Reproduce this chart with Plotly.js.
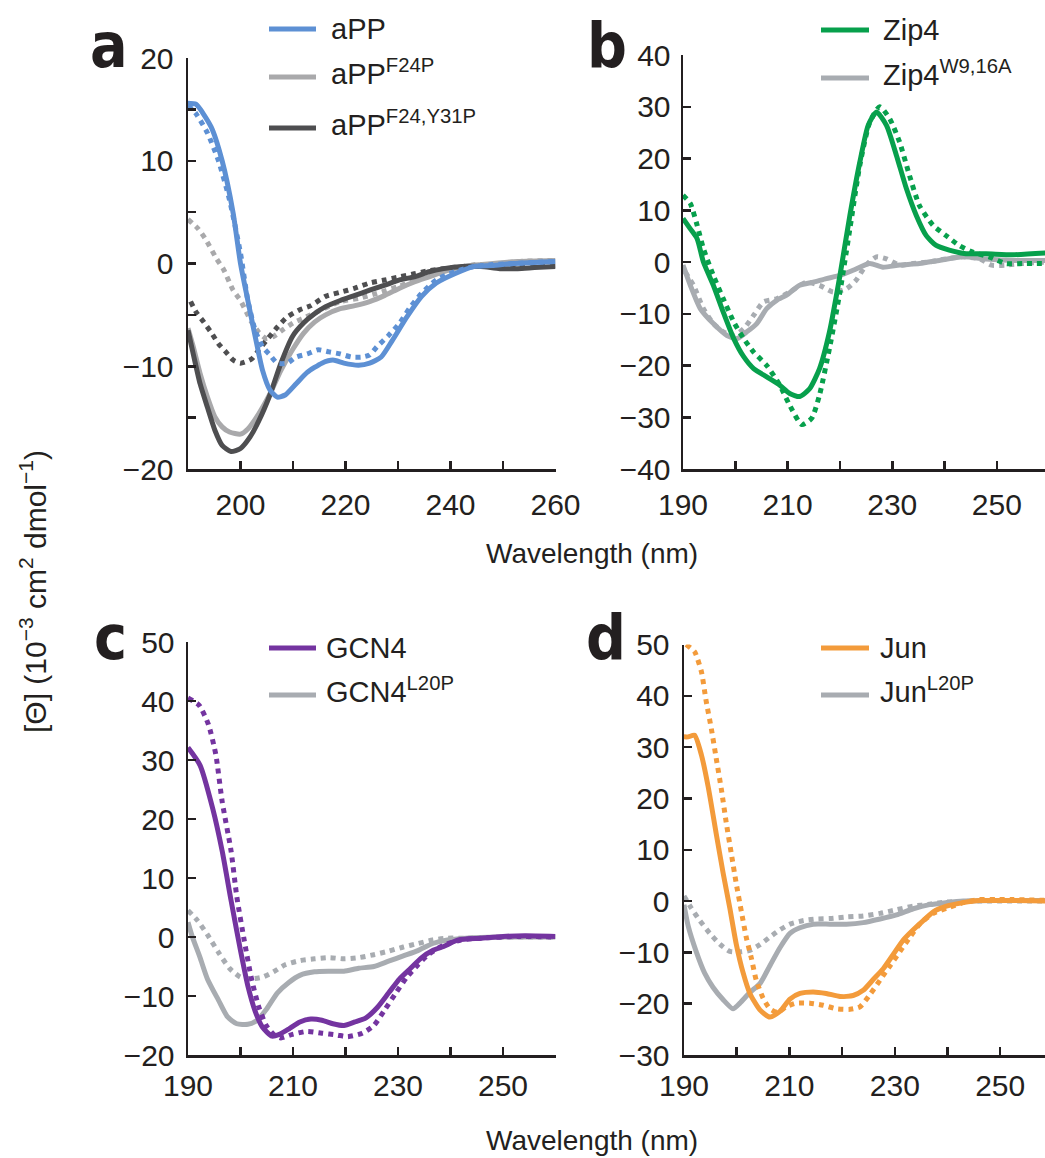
<!DOCTYPE html>
<html>
<head>
<meta charset="utf-8">
<script src="https://cdn.plot.ly/plotly-3.0.1.min.js"></script>
<style>html,body{margin:0;padding:0;background:#fff;overflow:hidden}#chart{width:1045px;height:1158px}</style>
</head>
<body>
<div id="chart"></div>
<script>
// ---------- Panel a : aPP variants ----------
const aPP_x = [190,191.5,194.4,196.5,198.6,200,201.4,202.8,204.2,205.6,207,208.5,210.6,212.7,215.5,217.6,219.7,222.5,224.6,226.8,228.9,231.7,234.5,237.3,240.8,244.4,247.9,252,256,260];
const aPP_y = [15.6,15.5,13.3,10,4.9,0,-3.6,-7.1,-10.4,-12.3,-13,-12.8,-11.7,-10.6,-9.7,-9.4,-9.7,-9.9,-9.7,-9.1,-7.5,-5.2,-3.2,-1.9,-1,-0.3,-0.2,0,0.1,0.2];
const aPPdot_x = [190,191.5,193.7,195.8,197.9,200,201.4,202.8,204.2,205.6,207,208.9,210.6,212.7,214.8,216.9,219,221.1,223.2,224.6,226,228.2,230.3,232.4,234.5,237.3,240.8,244.4,248,252,256,260];
const aPPdot_y = [15.4,14.6,12.7,10,6.2,1,-3.6,-6.5,-8.1,-8.9,-9.7,-9.7,-9.1,-8.8,-8.4,-8.6,-8.8,-9.1,-9.1,-8.9,-8.1,-7,-5.8,-4.2,-2.9,-1.6,-0.8,-0.3,-0.1,0,0.1,0.2];
const F24P_x = [190,191,192.3,193.7,195.1,196.5,197.9,200,201.4,203.5,205.6,207.7,209.9,212,214.1,216.2,219,221.8,224.6,227.5,230.3,233.1,235.9,238.7,242.3,246,252.8,260];
const F24P_y = [-6.3,-8.1,-10.7,-13,-14.9,-15.9,-16.4,-16.6,-16.1,-14.6,-12.7,-10.4,-8.4,-6.8,-5.7,-5,-4.4,-4.1,-3.7,-3.1,-2.4,-1.8,-1.3,-0.8,-0.3,-0.1,0.2,0.3];
const F24Pdot_x = [190,191.9,193.3,195.4,196.8,198.6,200,201.1,202.1,203.5,204.9,206.3,208.2,210,212.5,215,219,222.5,226,230.3,234.5,238.7,243,248,252.8,260];
const F24Pdot_y = [4.3,3.4,2.4,0.5,-0.6,-2.6,-3.6,-4.7,-5.7,-6.7,-7.3,-7.1,-6.4,-5.8,-5.2,-4.6,-3.7,-3.4,-2.9,-2.2,-1.4,-0.9,-0.3,-0.1,0.2,0.3];
const F24Y31P_x = [190,191,192.3,193.7,195.1,196.5,198.2,200,201.8,203.5,205.6,207.7,209.9,212,214.1,216.2,219,221.8,224.6,227.5,230.3,233.1,235.9,238.7,242.3,245.8,249.4,252.8,256,260];
const F24Y31P_y = [-6.5,-8.8,-11.7,-14,-16.2,-17.7,-18.3,-18,-16.9,-15.3,-12.8,-9.7,-7.1,-5.8,-4.9,-4.2,-3.6,-3.1,-2.6,-2.1,-1.6,-1.3,-0.8,-0.5,-0.3,-0.3,-0.5,-0.5,-0.4,-0.3];
const F24Y31Pdot_x = [190.5,191.5,193,194.4,195.8,197.2,198.6,200,202.1,203.5,204.9,207,208.9,211.3,213.4,216.2,219,221.8,224.6,227.5,230.3,233.1,235.9,238.7,242.3,245.8,249.4,252.8,260];
const F24Y31Pdot_y = [-3.7,-4.7,-5.7,-6.7,-7.8,-8.6,-9.4,-9.7,-9.3,-8.4,-7.5,-6.2,-5.2,-4.5,-4.1,-3.2,-2.8,-2.4,-1.9,-1.6,-1.3,-1,-0.7,-0.5,-0.3,-0.1,-0.3,-0.3,-0.2];

// ---------- Panel b : Zip4 ----------
const Zip4_x = [190,191.4,192.7,193.9,195.8,197.7,199.7,201.6,203.5,206,208.5,210.4,212.3,214.2,216.1,218,220,221.9,223.8,225.4,227,228.9,230.8,232.7,234.6,236.5,238.4,240.9,244.1,247.9,253,260];
const Zip4_y = [8.4,6.4,4.5,0,-4.5,-9.7,-14.8,-18.3,-20.6,-22.2,-23.8,-25.4,-26,-24.5,-20.6,-13.5,-2.6,9,19.3,26.4,29,26.4,20.6,14.2,9,5.1,3.2,2.3,1.6,1.6,1.4,1.8];
const Zip4dot_x = [190,191.4,192.7,193.9,195.8,197.7,199.7,201.6,203.5,206,208.5,210.4,212.7,214.6,216.1,218,220,221.9,223.8,225.7,227.6,229.5,231.4,233.3,235.2,237.8,240.3,242.8,245.4,248.5,251.7,254.9,260];
const Zip4dot_y = [12.9,11.3,7.1,2.6,-2.6,-7.1,-11.6,-14.8,-17.4,-20,-23.8,-27.7,-31.4,-30.2,-25.7,-16.7,-5.8,6.4,18.7,27,30,27.7,23.2,16.7,10.9,7.1,5.1,3.2,1.9,1,-0.3,-0.3,-0.3];
const Zip4W_x = [190,191.4,193.3,195.8,198.4,200.3,202.2,204.1,206,207.9,209.8,212.3,214.9,217.4,220,222.5,225.7,228.2,231.4,235.2,239,243.5,247.9,253,260];
const Zip4W_y = [-0.6,-4.5,-9,-11.9,-14.2,-14.8,-13.5,-11.9,-9,-7.4,-6.4,-4.5,-3.9,-3.2,-2.6,-1.6,-0.3,-1,-0.6,-0.3,0.3,1,0.6,0.3,0.3];
const Zip4Wdot_x = [190.4,192,193.9,195.8,197.7,199.7,201.6,203.5,205.4,207.9,210.4,213.6,216.1,218.7,221.2,223.1,225,227,228.9,231.4,234,237.1,240.3,243.5,246.7,249,251.7,254.9,260];
const Zip4Wdot_y = [-1.9,-4.5,-9,-11.9,-13.5,-14.2,-12.9,-10.3,-7.7,-7.1,-5.8,-3.9,-4.5,-5.8,-5.2,-3.5,-0.6,1,0.6,-0.6,-0.3,0,0.6,1,0.6,-0.6,-0.6,-0.3,0];

// ---------- Panel c : GCN4 ----------
const GCN4_x = [190,192.3,194.7,196.5,198.2,200,201.4,202.8,204.2,206,207.4,209.2,211.3,213.4,215.5,217.6,219.7,221.8,223.9,226.1,228.2,230.3,232.4,234.5,236.6,238.7,241.5,245.8,250,254.2,260];
const GCN4_y = [32.1,29.1,21.8,14.6,6.2,-2.3,-8.3,-12.6,-15.3,-16.8,-16.5,-15.6,-14.4,-13.9,-14.1,-14.7,-15,-14.4,-13.7,-11.9,-9.5,-7.1,-5.3,-3.5,-2.3,-1.6,-0.5,-0.2,0.1,0.2,0.1];
const GCN4dot_x = [190,192.1,193.9,195.3,196.5,198.2,199.3,200.7,202.1,203.5,204.9,206.3,207.7,209.9,212.7,215.5,218.3,220.4,223.2,225.4,227.5,229.6,231.7,233.8,235.9,238.7,242,245.8,252.8,260];
const GCN4dot_y = [40.5,39.3,36,30.9,23,14.6,6.8,-0.5,-7.1,-11.9,-15,-16.5,-17.1,-16.5,-16,-16.3,-16.6,-16.9,-16.3,-15,-12.3,-9.5,-6.8,-4.7,-2.9,-1.4,-0.5,-0.2,0.1,0];
const GCN4L_x = [190,190.8,192.3,193.7,195.8,197.5,199.3,201.4,203.2,204.9,207,209.2,211.3,214.1,217,219.7,222.5,225.4,228.2,231,233.8,236.6,239.4,242.9,249.3,260];
const GCN4L_y = [2.5,0.1,-3.5,-7.1,-10.7,-13.5,-14.7,-14.8,-14.1,-12.3,-9.5,-7.7,-6.5,-5.9,-5.8,-5.8,-5.3,-5,-4.1,-3.2,-2.3,-1.1,-0.5,-0.2,0,0];
const GCN4Ldot_x = [190,191.8,193.7,195.8,197.9,200,202.1,204.2,206.3,208.5,211.3,214.1,217,219.7,222.5,225.4,228.2,231,233.8,236.6,239.4,242.9,252.8,260];
const GCN4Ldot_y = [4.5,2.8,0.4,-2.6,-5.3,-6.8,-7.1,-6.8,-5.9,-4.7,-4,-3.7,-3.5,-3.7,-3.5,-3,-2.4,-1.7,-1.1,-0.5,-0.2,-0.2,0,0];

// ---------- Panel d : Jun ----------
const Jun_x = [190,190.8,192,193.3,194.6,196.1,197.4,198.7,199.9,201.2,202.5,204.4,206.3,208.2,210.1,212,214.5,217,219.6,222.1,224,225.9,227.8,229.7,231.6,233.5,235.4,237.3,239.8,243,246.1,252.4,260];
const Jun_y = [32,32,32.3,28.5,22.2,13.2,5.6,-1.4,-8.3,-13.9,-18,-21.2,-22.6,-21.5,-19.1,-18,-17.7,-18,-18.6,-18.4,-17.4,-15.3,-13.2,-10.4,-7.6,-5.6,-3.8,-2.1,-1,-0.3,0.1,0.1,0];
const Jundot_x = [190.4,192,193.3,194.2,195.2,196.1,197.1,198,199,199.9,200.9,201.8,202.8,203.7,205,206.3,207.8,209.4,211.3,213.9,216.4,218.9,221.5,223.4,225.3,227.2,229.1,231,232.9,234.7,237.3,239.8,243,246.1,249.3,252.4,260];
const Jundot_y = [50,48.6,44.7,39,33.5,27.9,21.7,15.4,9.1,3.5,-2.1,-7,-11.2,-15.4,-18.9,-21,-21.7,-20.6,-19.9,-19.9,-20.3,-21,-21.1,-20.6,-18.2,-15.4,-12.6,-9.8,-7,-4.5,-2.4,-1.4,-0.3,0.3,0.3,0.3,0.1];
const JunL_x = [190,190.8,192.3,193.9,195.5,197.4,199.3,200.6,202.5,204.4,206.3,208.2,210.1,212,214.5,217.7,220.8,224,227.2,230.3,233.5,236.6,239.8,243,249.3,260];
const JunL_y = [-0.7,-4.9,-9.8,-14,-16.8,-19.2,-21,-19.9,-17.8,-16.1,-12.6,-9.1,-6.3,-5.2,-4.5,-4.5,-4.5,-4.2,-3.5,-2.7,-1.5,-0.7,-0.3,0,0.1,0.1];
const JunLdot_x = [190,191.4,193,194.9,196.8,198.7,200.6,202.5,204.4,206.3,208.2,210.1,212.7,215.1,217.7,220.8,224,227.2,230.3,233.5,236.6,239.8,246.1,260];
const JunLdot_y = [1,-1.4,-3.8,-6.3,-8.4,-9.8,-9.9,-9.6,-8.5,-7,-5.6,-4.5,-3.8,-3.5,-3.4,-3.1,-2.9,-2.4,-1.7,-1,-0.6,-0.2,0,0];

// ---------- Labels and ticks ----------
const panelLetters = ['a','b','c','d'];
const legendNames_a = ['aPP','aPP<sup>F24P</sup>','aPP<sup>F24,Y31P</sup>'];
const legendNames_b = ['Zip4','Zip4<sup>W9,16A</sup>'];
const legendNames_c = ['GCN4','GCN4<sup>L20P</sup>'];
const legendNames_d = ['Jun','Jun<sup>L20P</sup>'];
const xMinorVals = [190,200,210,220,230,240,250,260];
const xTickVals_a = [200,220,240,260];
const xTickText_a = ['200','220','240','260'];
const xTickVals_bcd = [190,210,230,250];
const xTickText_bcd = ['190','210','230','250'];
const yMinorVals_a = [-20,-15,-10,-5,0,5,10,15,20];
const yTickVals_a = [-20,-10,0,10,20];
const yTickText_a = ['\u221220','\u221210','0','10','20'];
const yTickVals_b = [-40,-30,-20,-10,0,10,20,30,40];
const yTickText_b = ['\u221240','\u221230','\u221220','\u221210','0','10','20','30','40'];
const yTickVals_c = [-20,-10,0,10,20,30,40,50];
const yTickText_c = ['\u221220','\u221210','0','10','20','30','40','50'];
const yTickVals_d = [-30,-20,-10,0,10,20,30,40,50];
const yTickText_d = ['\u221230','\u221220','\u221210','0','10','20','30','40','50'];
const xTitle = 'Wavelength (nm)';
const yTitle = '[\u0398] (10<sup>\u22123</sup> cm<sup>2</sup> dmol<sup>\u22121</sup>)';

// ---------- Styles ----------
const C = {
  blue:'#5d90d4', lgray:'#a9a9ab', dgray:'#4e4e50',
  green:'#07a04c', gray:'#a8acb1', purple:'#7434a0', orange:'#f39b3b'
};
const INK = '#231f20';
const FONT = "'Liberation Sans', Arial, Helvetica, sans-serif";
const W = 1045, H = 1158;
const px = v => v / W;
const py = v => 1 - v / H;
const SOLID_W = 5, DOT_W = 5, DOT = '5px,5px';

function tr(x, y, color, dotted, ax) {
  return {
    x: x, y: y, type: 'scatter', mode: 'lines', showlegend: false, hoverinfo: 'skip',
    xaxis: 'x' + ax, yaxis: 'y' + ax,
    line: { color: color, width: dotted ? DOT_W : SOLID_W, dash: dotted ? DOT : 'solid', shape: 'spline', smoothing: 0.6 }
  };
}
const data = [
  tr(F24Pdot_x, F24Pdot_y, C.lgray, true, ''),
  tr(F24Y31Pdot_x, F24Y31Pdot_y, C.dgray, true, ''),
  tr(F24P_x, F24P_y, C.lgray, false, ''),
  tr(F24Y31P_x, F24Y31P_y, C.dgray, false, ''),
  tr(aPPdot_x, aPPdot_y, C.blue, true, ''),
  tr(aPP_x, aPP_y, C.blue, false, ''),

  tr(Zip4Wdot_x, Zip4Wdot_y, C.gray, true, '2'),
  tr(Zip4W_x, Zip4W_y, C.gray, false, '2'),
  tr(Zip4dot_x, Zip4dot_y, C.green, true, '2'),
  tr(Zip4_x, Zip4_y, C.green, false, '2'),

  tr(GCN4Ldot_x, GCN4Ldot_y, C.gray, true, '3'),
  tr(GCN4L_x, GCN4L_y, C.gray, false, '3'),
  tr(GCN4dot_x, GCN4dot_y, C.purple, true, '3'),
  tr(GCN4_x, GCN4_y, C.purple, false, '3'),

  tr(JunLdot_x, JunLdot_y, C.gray, true, '4'),
  tr(JunL_x, JunL_y, C.gray, false, '4'),
  tr(Jundot_x, Jundot_y, C.orange, true, '4'),
  tr(Jun_x, Jun_y, C.orange, false, '4')
];

function axis(extra, minorVals, standoff) {
  const a = Object.assign({
    showline: true, linecolor: INK, linewidth: 2.5,
    ticks: 'inside', ticklen: 8, tickwidth: 2.5, tickcolor: INK,
    showgrid: false, zeroline: false, fixedrange: true,
    tickmode: 'array', ticklabelstandoff: standoff,
    tickfont: { family: FONT, size: 30, color: INK }
  }, extra);
  if (minorVals) a.minor = { tickmode: 'array', tickvals: minorVals, ticks: 'inside', ticklen: 8, tickwidth: 2.5, tickcolor: INK, showgrid: false };
  return a;
}

const layout = {
  width: W, height: H,
  margin: { l: 0, r: 0, t: 0, b: 0 },
  paper_bgcolor: '#fff', plot_bgcolor: 'rgba(0,0,0,0)',
  font: { family: FONT, color: INK },
  xaxis: axis({ domain: [px(188), px(555.5)], range: [190, 260], anchor: 'y', tickvals: xTickVals_a, ticktext: xTickText_a }, xMinorVals, 7),
  yaxis: axis({ domain: [py(469), py(58)], range: [-20, 20], anchor: 'x', tickvals: yTickVals_a, ticktext: yTickText_a }, yMinorVals_a, 6),
  xaxis2: axis({ domain: [px(683), 1], range: [190, 259.2], anchor: 'y2', tickvals: xTickVals_bcd, ticktext: xTickText_bcd }, xMinorVals, 7),
  yaxis2: axis({ domain: [py(469), py(55)], range: [-40, 40], anchor: 'x2', tickvals: yTickVals_b, ticktext: yTickText_b }, null, 4),
  xaxis3: axis({ domain: [px(188), px(555.5)], range: [190, 260], anchor: 'y3', tickvals: xTickVals_bcd, ticktext: xTickText_bcd }, xMinorVals, 2),
  yaxis3: axis({ domain: [py(1055), py(642)], range: [-20, 50], anchor: 'x3', tickvals: yTickVals_c, ticktext: yTickText_c }, null, 5),
  xaxis4: axis({ domain: [px(684), 1], range: [190, 258.5], anchor: 'y4', tickvals: xTickVals_bcd, ticktext: xTickText_bcd }, xMinorVals, 2),
  yaxis4: axis({ domain: [py(1055), py(644.5)], range: [-30, 50], anchor: 'x4', tickvals: yTickVals_d, ticktext: yTickText_d }, null, 6),
  shapes: [],
  annotations: []
};

// panel letters
const letterPos = [[109, 46], [607, 46], [110, 637], [606, 637]];
panelLetters.forEach((t, i) => {
  layout.annotations.push({
    text: t, xref: 'paper', yref: 'paper', x: px(letterPos[i][0]), y: py(letterPos[i][1]),
    xanchor: 'center', yanchor: 'middle', showarrow: false,
    font: { family: "'Liberation Sans Narrow', 'DejaVu Sans Condensed', 'Liberation Sans', Arial, sans-serif", size: 62, color: INK, weight: 'bold' }
  });
});

// legends
function legend(names, colors, x0, x1, tx, ys) {
  names.forEach((n, i) => {
    layout.shapes.push({ type: 'line', xref: 'paper', yref: 'paper', x0: px(x0), x1: px(x1), y0: py(ys[i]), y1: py(ys[i]),
      line: { color: colors[i], width: 5 } });
    layout.annotations.push({ text: n, xref: 'paper', yref: 'paper', x: px(tx), y: py(ys[i]),
      xanchor: 'left', yanchor: 'middle', showarrow: false, yshift: n.indexOf('<sup>') >= 0 ? 5 : 0,
      font: { family: FONT, size: 29, color: INK } });
  });
}
legend(legendNames_a, [C.blue, C.lgray, C.dgray], 269, 316, 329, [29, 77, 128]);
legend(legendNames_b, [C.green, C.gray], 821, 869, 881, [30, 78]);
legend(legendNames_c, [C.purple, C.gray], 269, 316, 324, [648, 695]);
legend(legendNames_d, [C.orange, C.gray], 821, 869, 878, [648, 695]);

// axis titles
[553, 1140].forEach(yy => layout.annotations.push({
  text: xTitle, xref: 'paper', yref: 'paper', x: px(592), y: py(yy), xanchor: 'center', yanchor: 'middle',
  showarrow: false, font: { family: FONT, size: 28, color: INK }
}));
layout.annotations.push({
  text: yTitle, xref: 'paper', yref: 'paper', x: px(33), y: py(592), xanchor: 'center', yanchor: 'middle',
  textangle: -90, showarrow: false, font: { family: FONT, size: 30, color: INK }
});

Plotly.newPlot('chart', data, layout, { staticPlot: true, displayModeBar: false });
</script>
</body>
</html>
